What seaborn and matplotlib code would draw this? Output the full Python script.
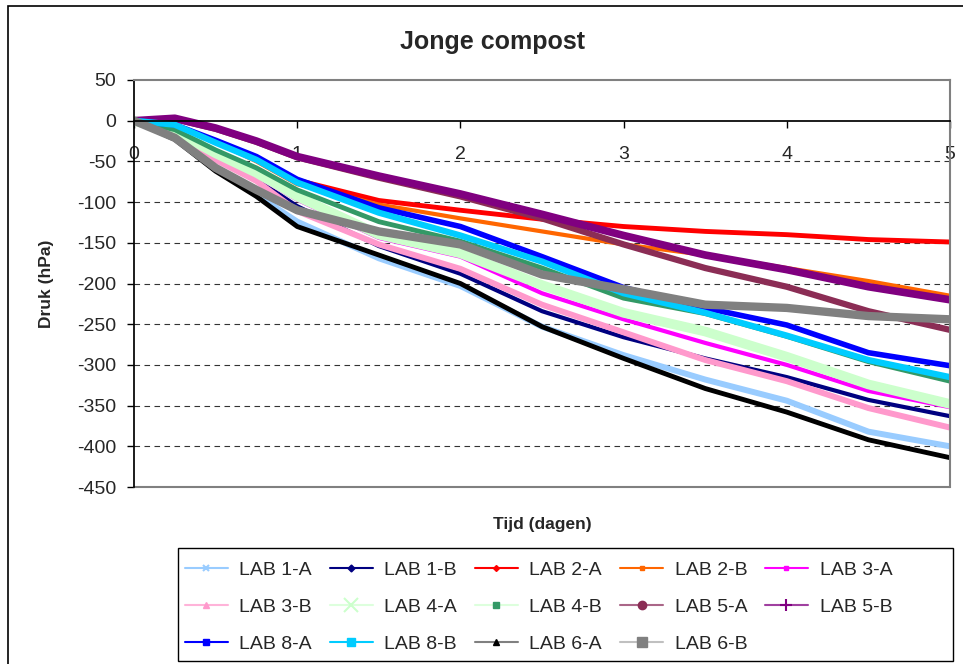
import matplotlib
matplotlib.use("Agg")
import matplotlib.pyplot as plt
from matplotlib.lines import Line2D
from matplotlib.patches import Rectangle
import seaborn as sns

days = [0, 0.25, 0.5, 0.75, 1, 1.5, 2, 2.5, 3, 3.5, 4, 4.5, 5]

lab1a = [0, -21, -60, -91, -124, -169, -203, -253, -288, -318, -344, -382, -400]
lab1b = [0, -15, -48, -72, -105, -154, -188, -234, -266, -292, -315, -343, -363]
lab2a = [0, -6, -25, -48, -73, -98, -110, -121, -130, -136, -140, -146, -149]
lab2b = [0, -6, -26, -50, -78, -103, -120, -136, -152, -165, -181, -197, -215]
lab3a = [0, -13, -44, -68, -97, -144, -167, -212, -244, -273, -300, -332, -352]
lab3b = [0, -15, -48, -74, -111, -152, -182, -226, -260, -294, -320, -353, -377]
lab4a = [0, -13, -40, -64, -93, -140, -163, -202, -236, -259, -290, -324, -348]
lab4b = [0, -11, -36, -58, -85, -124, -148, -181, -218, -237, -265, -296, -320]
lab5a = [0, 2, -10, -26, -45, -70, -93, -120, -152, -181, -204, -234, -257]
lab5b = [0, 3, -9, -25, -44, -68, -90, -115, -141, -165, -183, -204, -220]
lab8a = [0, -5, -24, -44, -72, -107, -130, -167, -205, -230, -251, -285, -301]
lab8b = [0, -5, -27, -48, -76, -113, -141, -173, -212, -236, -264, -294, -315]
lab6a = [0, -23, -62, -93, -130, -165, -200, -253, -292, -329, -358, -392, -414]
lab6b = [0, -21, -58, -85, -110, -136, -152, -189, -207, -226, -230, -240, -244]

labels = ["LAB 1-A", "LAB 1-B", "LAB 2-A", "LAB 2-B", "LAB 3-A",
          "LAB 3-B", "LAB 4-A", "LAB 4-B", "LAB 5-A", "LAB 5-B",
          "LAB 8-A", "LAB 8-B", "LAB 6-A", "LAB 6-B"]
series = [lab1a, lab1b, lab2a, lab2b, lab3a, lab3b, lab4a, lab4b,
          lab5a, lab5b, lab8a, lab8b, lab6a, lab6b]

# kleur van de band in de grafiek (markers) en van de lijn in de legenda
plot_colors = ["#99CCFF", "#000080", "#FF0000", "#FF6600", "#FF00FF",
               "#FF99CC", "#CCFFCC", "#339966", "#8B2D55", "#800080",
               "#0000FF", "#00CCFF", "#000000", "#808080"]
line_colors = ["#99CCFF", "#000080", "#FF0000", "#FF6600", "#FF00FF",
               "#FFB3D9", "#DDFFDD", "#DDFFDD", "#AA6688", "#A040A0",
               "#0000FF", "#00CCFF", "#808080", "#C0C0C0"]
markers = ["x", "D", "D", "s", "s", "^", "x", "s", "o", "+", "s", "s", "^", "s"]
msizes = [4, 3.5, 3, 2.5, 3, 5, 10, 4, 6, 9, 5, 6, 4, 7]
widths = [4.3, 3, 3.5, 3, 3, 4.3, 7, 3.5, 4.5, 5.5, 4, 4.5, 3.5, 6]

sns.set_theme(style="white")
plt.rcParams["font.family"] = ["Liberation Sans", "DejaVu Sans"]
plt.rcParams["axes.unicode_minus"] = False

fig = plt.figure(figsize=(9.63, 6.64), dpi=100)
ax = fig.add_axes([134 / 963, 1 - 487 / 664, 816 / 963, 407 / 664])

for v in range(-400, 0, 50):
    ax.axhline(v, color="#333333", lw=0.8, ls=(0, (5, 4)), zorder=0)

for vals, col, lw in zip(series, plot_colors, widths):
    sns.lineplot(x=days, y=vals, ax=ax, color=col, lw=lw, legend=False)

ax.set_xlim(0, 5)
ax.set_ylim(-450, 50)
ax.set_xticks(range(0, 6))
ax.set_yticks(range(-450, 51, 50))

ax.spines["bottom"].set_position(("data", 0))
ax.spines["bottom"].set_color("black")
ax.spines["left"].set_color("black")
for s in ["top", "right"]:
    ax.spines[s].set_color("#808080")
    ax.spines[s].set_linewidth(1.5)
ax.axhline(-450, color="#808080", lw=1.5, clip_on=False)

ax.tick_params(axis="y", left=True, direction="out", length=5, width=1,
               pad=8, labelsize=14, color="black")
ax.tick_params(axis="x", bottom=True, direction="out", length=5, width=1,
               pad=13, labelsize=14, color="black")

ax.set_xlabel("Tijd (dagen)", fontsize=12.5, fontweight="bold")
ax.xaxis.set_label_coords(0.5, -0.091)
ax.xaxis.label.set_va("center")
ax.set_ylabel("Druk (hPa)", fontsize=12.5, fontweight="bold")
ax.yaxis.set_label_coords(-0.107, 0.5)
ax.yaxis.label.set_va("center")

fig.text(492 / 963, 1 - 42 / 664, "Jonge compost", ha="center", va="center",
         fontsize=18, fontweight="bold")

handles = [Line2D([], [], color=lc, lw=1.5, marker=m, markersize=ms,
                  markerfacecolor=pc, markeredgecolor=pc,
                  markeredgewidth=1.5 if m in ("x", "+") else 1)
           for lc, pc, m, ms in zip(line_colors, plot_colors, markers, msizes)]
# volgorde rij voor rij zoals in Excel
order = [0, 5, 10, 1, 6, 11, 2, 7, 12, 3, 8, 13, 4, 9]
leg = fig.legend([handles[i] for i in order], [labels[i] for i in order],
                 loc="upper left", bbox_to_anchor=(185 / 963, 1 - 561 / 664),
                 ncol=5, fontsize=14, frameon=False, handlelength=2.2,
                 handletextpad=0.6, labelspacing=1.0, columnspacing=0.92,
                 borderaxespad=0, borderpad=0)

# kader van de legenda en van het hele diagram
fig.patches.append(Rectangle((178 / 963, 1 - 661 / 664), 775 / 963, 113 / 664,
                             transform=fig.transFigure, fill=False,
                             edgecolor="black", lw=1))
fig.patches.append(Rectangle((8 / 963, -0.05), 1.1, 1 - 6 / 664 + 0.05,
                             transform=fig.transFigure, fill=False,
                             edgecolor="black", lw=1.2))

fig.savefig("out.png", dpi=100)
